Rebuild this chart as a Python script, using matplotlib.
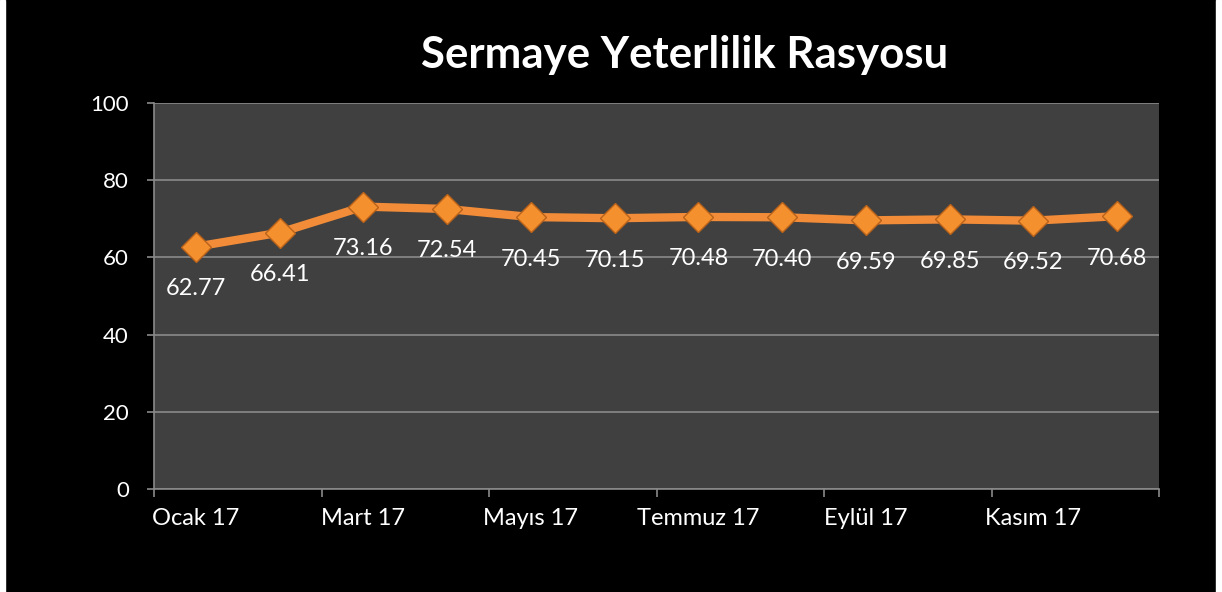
import matplotlib.pyplot as plt
from matplotlib.patches import Rectangle

months = ['Ocak 17', 'Şubat 17', 'Mart 17', 'Nisan 17', 'Mayıs 17', 'Haziran 17',
          'Temmuz 17', 'Ağustos 17', 'Eylül 17', 'Ekim 17', 'Kasım 17', 'Aralık 17']
ratio = [62.77, 66.41, 73.16, 72.54, 70.45, 70.15, 70.48, 70.40, 69.59, 69.85, 69.52, 70.68]
y_ticks = [0, 20, 40, 60, 80, 100]

plt.rcParams['font.family'] = ['Lato', 'DejaVu Sans']

fig = plt.figure(figsize=(12.22, 5.92), dpi=100, facecolor='black')
ax = fig.add_axes([154/1222, 1 - 489/592, (1159-154)/1222, (489-103)/592])
ax.set_facecolor('#404040')

# white strips at the left and right edges
fig.patches.append(Rectangle((0, 0), 5/1222, 1, transform=fig.transFigure, color='white', zorder=-1))
fig.patches.append(Rectangle((1216/1222, 0), 6/1222, 1, transform=fig.transFigure, color='white', zorder=-1))

x = list(range(len(ratio)))
ax.plot(x, ratio, color='#F28C38', lw=6, solid_capstyle='round', zorder=3)
ax.plot(x, ratio, ls='none', marker='D', ms=15.5, mfc='#F5902E', mec='#B9621A', mew=1, zorder=4)

for xi, v in zip(x, ratio):
    ax.annotate(f'{v:.2f}', (xi, v), xytext=(0, -42), textcoords='offset pixels',
                ha='center', va='center', color='white', fontsize=17, zorder=5)

ax.set_xlim(-0.5, len(ratio) - 0.5)
ax.set_ylim(0, 100)
ax.set_yticks(y_ticks)
ax.set_xticks([i - 0.5 for i in range(0, len(ratio) + 1, 2)])
ax.set_xticklabels([])
ax.set_xticks(x[::2], minor=True)
ax.set_xticklabels(months[::2], minor=True)

ax.grid(axis='y', color='#8a8a8a', lw=1.2)
ax.set_axisbelow(True)
for s in ['top', 'right']:
    ax.spines[s].set_visible(False)
for s in ['left', 'bottom']:
    ax.spines[s].set_color('#8a8a8a')
    ax.spines[s].set_linewidth(1.2)

ax.tick_params(axis='y', colors='#8a8a8a', labelcolor='white', labelsize=16, length=5, width=1.2, pad=13)
ax.tick_params(axis='x', which='major', colors='#8a8a8a', length=6, width=1.2)
ax.tick_params(axis='x', which='minor', length=0, labelcolor='white', labelsize=17, pad=14)

fig.text(685/1222, 1 - 55/592, 'Sermaye Yeterlilik Rasyosu', ha='center', va='center',
         color='white', fontsize=31.5, fontweight='bold')

fig.savefig('out.png', dpi=100, facecolor='black')
